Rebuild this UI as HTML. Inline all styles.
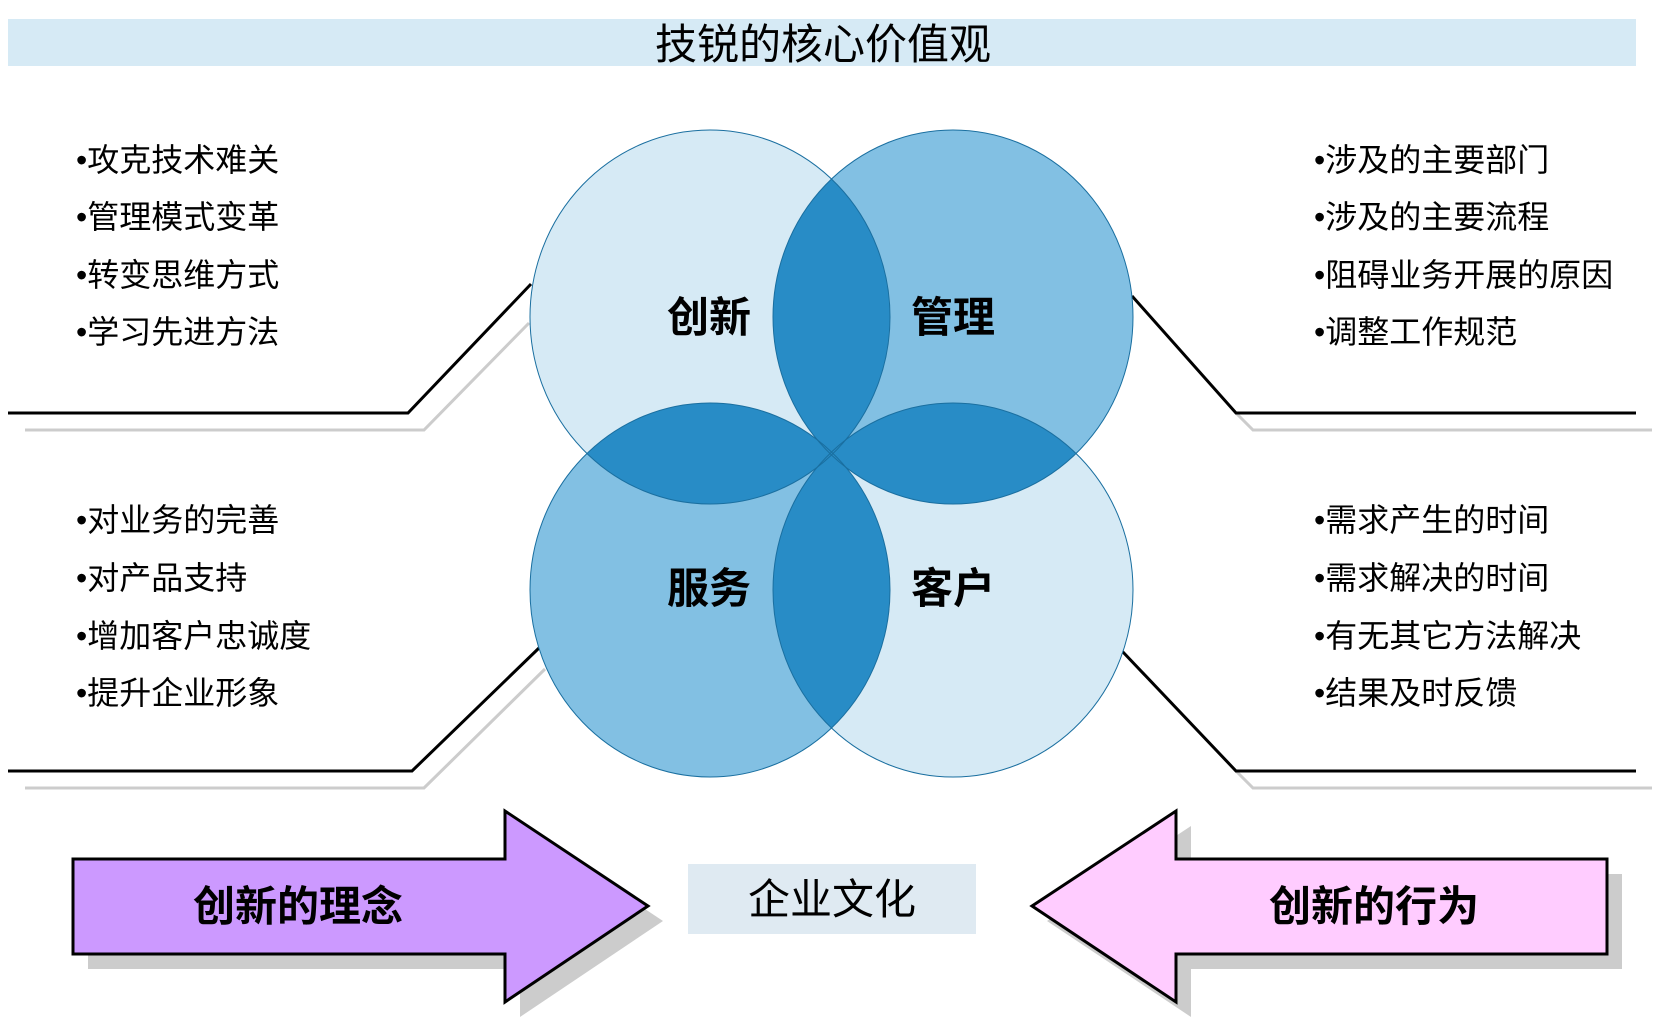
<!DOCTYPE html>
<html><head><meta charset="utf-8"><style>
html,body{margin:0;padding:0;background:#fff;}
svg{display:block;}
text{font-family:"Liberation Sans","Noto Sans CJK SC",sans-serif;}
</style></head><body>
<svg width="1661" height="1031" viewBox="0 0 1661 1031" xmlns="http://www.w3.org/2000/svg">
<defs>
<clipPath id="cTL"><ellipse cx="710" cy="317" rx="180" ry="187"/></clipPath>
<clipPath id="cTR"><ellipse cx="953" cy="317" rx="180" ry="187"/></clipPath>
<clipPath id="cBL"><ellipse cx="710" cy="590" rx="180" ry="187"/></clipPath>
<clipPath id="cBR"><ellipse cx="953" cy="590" rx="180" ry="187"/></clipPath>
</defs>
<rect x="8" y="19" width="1628" height="47" fill="#d6eaf5"/>
<text x="823" y="59" font-size="42" text-anchor="middle" fill="#000">技锐的核心价值观</text>

<g fill="none" stroke-width="3">
<polyline points="25,430 424,430 529,323" stroke="#cccccc"/>
<polyline points="8,413 408,413 531,284" stroke="#000"/>
<polyline points="1236,413 1253,430 1652,430" stroke="#cccccc"/>
<polyline points="1132,296 1236,413 1636,413" stroke="#000"/>
<polyline points="25,788 424,788 545,669" stroke="#cccccc"/>
<polyline points="8,771 412,771 539,648" stroke="#000"/>
<polyline points="1236,771 1253,788 1652,788" stroke="#cccccc"/>
<polyline points="1122,651 1236,771 1636,771" stroke="#000"/>
</g>

<ellipse cx="710" cy="317" rx="180" ry="187" fill="#d6eaf5"/>
<ellipse cx="953" cy="317" rx="180" ry="187" fill="#82c0e3"/>
<ellipse cx="710" cy="590" rx="180" ry="187" fill="#82c0e3"/>
<ellipse cx="953" cy="590" rx="180" ry="187" fill="#d6eaf5"/>
<g fill="#288cc6">
<ellipse cx="953" cy="317" rx="180" ry="187" clip-path="url(#cTL)"/>
<ellipse cx="710" cy="590" rx="180" ry="187" clip-path="url(#cTL)"/>
<ellipse cx="953" cy="590" rx="180" ry="187" clip-path="url(#cTR)"/>
<ellipse cx="953" cy="590" rx="180" ry="187" clip-path="url(#cBL)"/>
</g>
<g fill="none" stroke="#1a6fa0" stroke-width="1">
<ellipse cx="710" cy="317" rx="180" ry="187"/>
<ellipse cx="953" cy="317" rx="180" ry="187"/>
<ellipse cx="710" cy="590" rx="180" ry="187"/>
<ellipse cx="953" cy="590" rx="180" ry="187"/>
</g>
<g font-size="42" font-weight="bold" text-anchor="middle" fill="#000">
<text x="709" y="332">创新</text>
<text x="953" y="332">管理</text>
<text x="709" y="603">服务</text>
<text x="953" y="603">客户</text>
</g>

<g font-size="32" fill="#000">
<text x="76" y="171">•攻克技术难关</text>
<text x="76" y="228">•管理模式变革</text>
<text x="76" y="286">•转变思维方式</text>
<text x="76" y="343">•学习先进方法</text>
<text x="1314" y="171">•涉及的主要部门</text>
<text x="1314" y="228">•涉及的主要流程</text>
<text x="1314" y="286">•阻碍业务开展的原因</text>
<text x="1314" y="343">•调整工作规范</text>
<text x="76" y="531">•对业务的完善</text>
<text x="76" y="589">•对产品支持</text>
<text x="76" y="647">•增加客户忠诚度</text>
<text x="76" y="704">•提升企业形象</text>
<text x="1314" y="531">•需求产生的时间</text>
<text x="1314" y="589">•需求解决的时间</text>
<text x="1314" y="647">•有无其它方法解决</text>
<text x="1314" y="704">•结果及时反馈</text>
</g>

<polygon points="88,874 520,874 520,826 663,921 520,1017 520,969 88,969" fill="#cccccc"/>
<polygon points="73,859 505,859 505,811 648,906 505,1002 505,954 73,954" fill="#cc99ff" stroke="#000" stroke-width="3" stroke-linejoin="miter"/>
<text x="298" y="921" font-size="42" font-weight="bold" text-anchor="middle">创新的理念</text>

<polygon points="1047,921 1191,826 1191,874 1622,874 1622,969 1191,969 1191,1017" fill="#cccccc"/>
<polygon points="1032,906 1176,811 1176,859 1607,859 1607,954 1176,954 1176,1002" fill="#ffccff" stroke="#000" stroke-width="3"/>
<text x="1374" y="921" font-size="42" font-weight="bold" text-anchor="middle">创新的行为</text>

<rect x="688" y="864" width="288" height="70" fill="#dfeaf2"/>
<text x="832" y="914" font-size="42" text-anchor="middle">企业文化</text>
</svg>
</body></html>
